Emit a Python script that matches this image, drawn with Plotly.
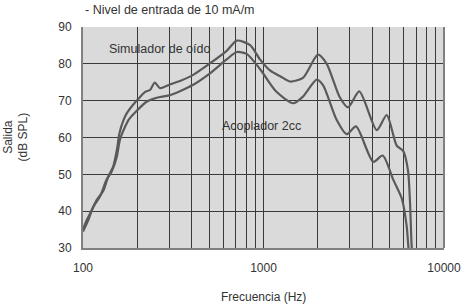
import plotly.graph_objects as go

# Simulador de oído (upper curve)
sim_freq = [100, 105, 112, 119, 130, 138, 147, 154, 159, 167, 175, 194, 201, 221, 235, 250, 267, 303, 350, 408,
            505, 625, 711, 843, 956, 1086, 1250, 1403, 1655, 2003, 2240, 2641, 2940, 3395, 4240, 4815, 5470,
            5950, 6320, 6480, 6620, 6700]
sim_db = [35.0, 37.6, 40.3, 43.0, 45.7, 49.4, 52.1, 56.6, 61.0, 64.5, 66.6, 69.5, 70.3, 72.4, 72.9, 74.9, 73.4,
          74.4, 75.5, 77.0, 80.1, 83.5, 86.3, 85.1, 81.2, 78.2, 76.5, 75.2, 76.2, 82.5, 80.0, 71.0, 68.2, 72.5,
          62.0, 66.1, 57.8, 56.3, 51.0, 42.5, 30.5, 28.0]

# Acoplador 2cc (lower curve)
cpl_freq = [100, 107, 114, 124, 135, 144, 154, 160, 171, 180, 198, 225, 256, 303, 408, 505, 625, 711, 807, 956,
            1180, 1461, 1655, 1970, 2137, 2541, 2890, 3255, 4055, 4575, 5240, 5830, 6210, 6350, 6450]
cpl_db = [34.5, 37.6, 41.2, 43.9, 48.5, 50.7, 54.8, 59.3, 62.9, 65.0, 67.2, 69.7, 70.8, 71.5, 74.3, 77.4, 81.2,
          83.2, 82.7, 78.6, 72.4, 69.3, 71.1, 75.7, 74.2, 64.8, 60.9, 63.0, 53.4, 55.1, 48.5, 43.5, 36.0, 30.3, 28.0]

x_grid_vals = [100, 200, 300, 400, 500, 600, 700, 800, 900, 1000, 2000, 3000, 4000, 5000, 6000, 7000, 8000,
               9000, 10000]
x_tick_labels = ["100"] + [""] * 8 + ["1000"] + [""] * 8 + ["10000"]
y_ticks = [30, 40, 50, 60, 70, 80, 90]

title_text = "- Nivel de entrada de 10 mA/m"
x_title = "Frecuencia (Hz)"
y_title = "Salida<br>(dB SPL)"
label_sim = "Simulador de oído"
label_cpl = "Acoplador 2cc"

FONT = "Liberation Sans, Arial, sans-serif"
TXT = "#333333"
LINE = "#5a5a5a"

fig = go.Figure()
for fx, fy in [(sim_freq, sim_db), (cpl_freq, cpl_db)]:
    fig.add_trace(go.Scatter(x=fx, y=fy, mode="lines",
                             line=dict(color=LINE, width=2.2, shape="spline", smoothing=0.7),
                             showlegend=False, hoverinfo="skip"))

fig.update_layout(
    width=467, height=305,
    margin=dict(l=83, r=23, t=27, b=57),
    paper_bgcolor="white", plot_bgcolor="#dadada",
    font=dict(family=FONT, size=12, color=TXT),
    xaxis=dict(type="log", range=[2, 4], tickvals=x_grid_vals, ticktext=x_tick_labels,
               showgrid=True, gridcolor="#3a3a3a", gridwidth=1.1, zeroline=False,
               showline=True, linecolor="#808080", linewidth=2, mirror=False, automargin=False,
               ticks="", ticklabelstandoff=8, tickfont=dict(size=12, color=TXT)),
    yaxis=dict(range=[30, 90], tickvals=y_ticks, showgrid=True, gridcolor="#3a3a3a", gridwidth=1.1,
               zeroline=False, showline=True, linecolor="#808080", linewidth=2, automargin=False,
               ticks="", ticklabelstandoff=7, tickfont=dict(size=12, color=TXT)),
    annotations=[
        dict(text=title_text, xref="paper", yref="paper", x=0, y=1, yshift=17, xanchor="left",
             yanchor="middle", showarrow=False, font=dict(size=12.5, color=TXT)),
        dict(text=x_title, xref="paper", yref="paper", x=0.5, y=0, yshift=-49, xanchor="center",
             yanchor="middle", showarrow=False, font=dict(size=12, color=TXT)),
        dict(text=y_title, xref="paper", yref="paper", x=0, xshift=-68, y=0.5, textangle=-90,
             xanchor="center", yanchor="middle", showarrow=False, font=dict(size=12, color=TXT)),
        dict(text=label_sim, xref="x", yref="y", x=2.427, y=84.0, xanchor="center", yanchor="middle",
             showarrow=False, font=dict(size=12.5, color=TXT)),
        dict(text=label_cpl, xref="x", yref="y", x=2.99, y=63.0, xanchor="center", yanchor="middle",
             showarrow=False, font=dict(size=12.5, color=TXT)),
    ],
)
# right border at 10000 Hz
fig.add_shape(type="line", xref="paper", yref="paper", x0=1, x1=1, y0=0, y1=1,
              line=dict(color="#808080", width=2))

fig.write_html("out.html", config={"displayModeBar": False},
               post_script="document.body.style.margin='0px';")
